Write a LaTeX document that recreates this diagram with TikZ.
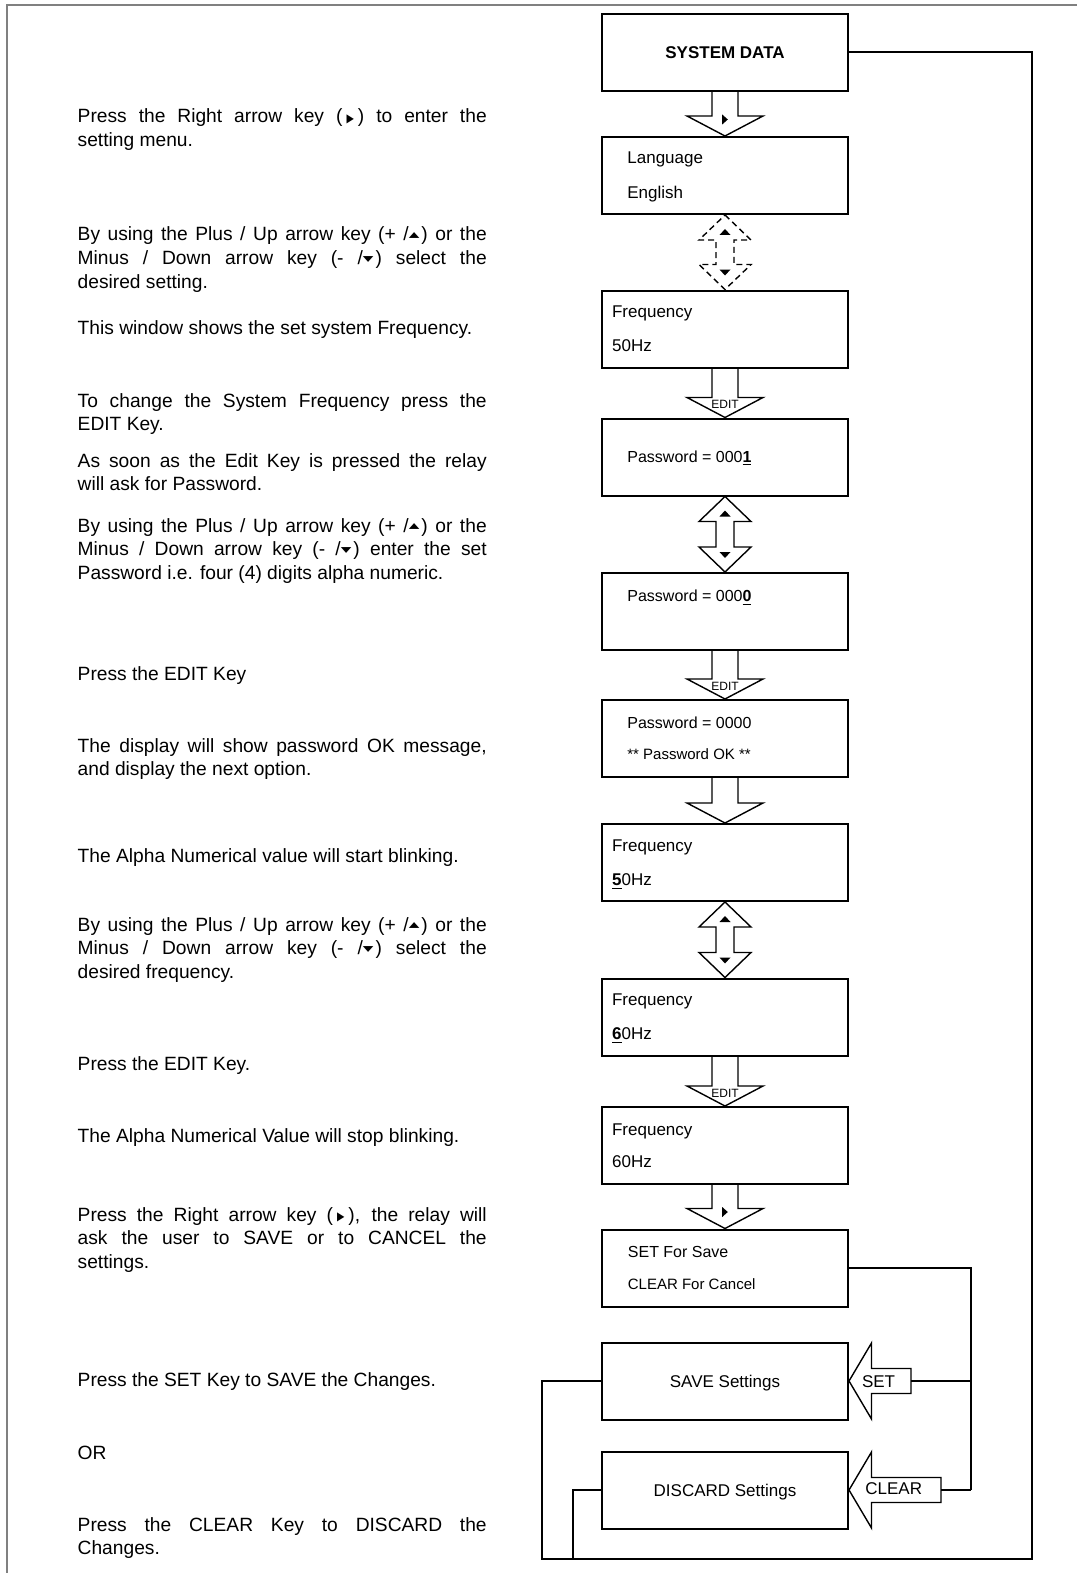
\documentclass[tikz,border=0pt]{standalone}
\usepackage{fontspec}
\setmainfont{Liberation Sans}
\newfontfamily\symfont{DejaVu Sans}
\usetikzlibrary{calc}

\tolerance=10000
\hbadness=10000
\hyphenpenalty=10000
\exhyphenpenalty=10000

% key glyphs
\newcommand{\rtk}{\raisebox{0.3pt}{\scalebox{0.5}[0.62]{\symfont ▶}}}
\newcommand{\upk}{\raisebox{1.6pt}{\scalebox{0.72}[0.4]{\symfont ▲}}}
\newcommand{\dnk}{\raisebox{1.6pt}{\scalebox{0.72}[0.4]{\symfont ▼}}}

% block arrow down, from one box to the next
\newcommand{\dnblk}[2]{%
  \draw[blk] ($(#1.south)+(-13,0)$) |- ($(#2.north)+(-38,-20)$) -- (#2.north)
    -- ++(38,-20) -| ($(#1.south)+(13,0)$);
}
% up/down block arrow between two boxes
\newcommand{\updn}[3][]{%
  \draw[blk,#1] (#2.south) -- ++(26,25) -- ++(-17,0) |- ($(#3.north)+(26,-25)$)
    -- (#3.north) -- ++(-26,-25) -- ++(17,0) |- ($(#2.south)+(-26,25)$) -- cycle;
  \fill ($(#2.south)+(0,17)$) ++(-5.5,3) -- ++(11,0) -- ++(-5.5,-6) -- cycle;
  \fill ($(#3.north)+(0,-17)$) ++(-5.5,-3) -- ++(11,0) -- ++(-5.5,6) -- cycle;
}
% small right key mark in a down arrow
\newcommand{\rmark}[1]{%
  \fill ($(#1.north)+(-2.8,-21.5)$) -- ++(5.6,5) -- ++(-5.6,5) -- cycle;
}
% block arrow pointing left into a box
\newcommand{\lblk}[3]{%
  \draw[blk] (#1.east) -- ++(22.5,-38) -- ++(0,25.5) -- ++(#2,0) -- ++(0,25)
    -- ++(-#2,0) -- ++(0,25.5) -- cycle;
  \coordinate (#3) at ($(#1.east)+({22.5+#2},0)$);
}

\tikzset{
  box/.style={draw, line width=1pt, minimum width=123pt, minimum height=38.5pt, inner sep=0pt},
  blk/.style={draw, line width=0.7pt},
  conn/.style={line width=1pt},
  btxt/.style={anchor=base west, inner sep=0pt, font=\fontsize{8.5}{10}\selectfont},
  ptxt/.style={anchor=base west, inner sep=0pt, font=\fontsize{8}{10}\selectfont},
  stxt/.style={anchor=base west, inner sep=0pt, font=\fontsize{7.5}{9}\selectfont},
  keytxt/.style={anchor=base, inner sep=0pt, font=\fontsize{6}{7}\selectfont},
  note/.style={anchor=base west, inner sep=0pt, text width=204.5pt, align=justify,
    font=\fontsize{9.6}{11.85}\selectfont},
}

\begin{document}
\begin{tikzpicture}[x=0.5pt, y=-0.5pt]
\useasboundingbox (0,0) rectangle (1077,1573);

% page frame
\draw[gray, line width=0.85pt] (6.7,1573) -- (6.7,4.7) -- (1077,4.7);

% notes on the left
\node[note] (nenter) at (77.3,123) {Press the Right arrow key (\hspace{2pt}\rtk\hspace{2pt}) to enter the\linebreak setting menu.};
\node[note] (nsetting) at (77.3,241) {By using the Plus / Up arrow key (+ /\upk\hspace{1pt}) or the\linebreak Minus / Down arrow key (- /\dnk\hspace{1pt}) select the\linebreak desired setting.};
\node[note] (nshow) at (77.3,334) {This window shows the set system Frequency.};
\node[note] (nchange) at (77.3,407) {To change the System Frequency press the\linebreak EDIT Key.};
\node[note] (nrelay) at (77.3,467) {As soon as the Edit Key is pressed the relay\linebreak will ask for Password.};
\node[note] (npass) at (77.3,532) {By using the Plus / Up arrow key (+ /\upk\hspace{1pt}) or the\linebreak Minus / Down arrow key (- /\dnk\hspace{1pt}) enter the set\linebreak Password i.e. four (4) digits alpha numeric.};
\node[note] (nedit) at (77.3,680) {Press the EDIT Key};
\node[note] (nok) at (77.3,752) {The display will show password OK message,\linebreak and display the next option.};
\node[note] (nblink) at (77.3,862) {The Alpha Numerical value will start blinking.};
\node[note] (nfreq) at (77.3,931) {By using the Plus / Up arrow key (+ /\upk\hspace{1pt}) or the\linebreak Minus / Down arrow key (- /\dnk\hspace{1pt}) select the\linebreak desired frequency.};
\node[note] (neditb) at (77.3,1070) {Press the EDIT Key.};
\node[note] (nstop) at (77.3,1142) {The Alpha Numerical Value will stop blinking.};
\node[note] (nright) at (77.3,1221) {Press the Right arrow key (\hspace{2pt}\rtk\hspace{2pt}), the relay will\linebreak ask the user to SAVE or to CANCEL the\linebreak settings.};
\node[note] (nsave) at (77.3,1386) {Press the SET Key to SAVE the Changes.};
\node[note] (nor) at (77.3,1459) {OR};
\node[note] (nclear) at (77.3,1531) {Press the CLEAR Key to DISCARD the\linebreak Changes.};

% display windows
\node[box, font=\bfseries\fontsize{8.5}{10}\selectfont] (sysdata) at (725,52.5) {SYSTEM DATA};
\node[box] (lang) at (725,175.5) {};
\node[box] (freq) at (725,329) {};
\node[box] (pwone) at (725,457) {};
\node[box] (pwzero) at (725,611.5) {};
\node[box] (pwok) at (725,738.5) {};
\node[box] (freqfive) at (725,862.5) {};
\node[box] (freqsix) at (725,1017) {};
\node[box] (freqnew) at (725,1145.5) {};
\node[box] (ask) at (725,1268) {};
\node[box, text depth=0pt, font=\fontsize{8.5}{10}\selectfont] (save) at (725,1381) {SAVE Settings};
\node[box, text depth=0pt, font=\fontsize{8.5}{10}\selectfont] (discard) at (725,1490) {DISCARD Settings};

% window texts
\node[btxt] (langa) at (627,163.3) {Language};
\node[btxt] (langb) at (627,198.3) {English};
\node[btxt] (freqa) at (611.7,317.3) {Frequency};
\node[btxt] (freqb) at (611.7,351) {50Hz};
\node[ptxt] (pwonet) at (627,462) {Password = 000\underline{\textbf{1}}};
\node[ptxt] (pwzerot) at (627,601.7) {Password = 000\underline{\textbf{0}}};
\node[ptxt] (pwoka) at (627,728) {Password = 0000};
\node[stxt] (pwokb) at (627,759) {** Password OK **};
\node[btxt] (fivea) at (611.7,851) {Frequency};
\node[btxt] (fiveb) at (611.7,885) {\underline{\textbf{5}}0Hz};
\node[btxt] (sixa) at (611.7,1005) {Frequency};
\node[btxt] (sixb) at (611.7,1039) {\underline{\textbf{6}}0Hz};
\node[btxt] (newa) at (611.7,1135) {Frequency};
\node[btxt] (newb) at (611.7,1167.3) {60Hz};
\node[ptxt] (aska) at (627.5,1257) {SET For Save};
\node[stxt] (askb) at (627.5,1289) {CLEAR For Cancel};

% key arrows
\dnblk{sysdata}{lang}
\rmark{lang}
\updn[dash pattern=on 3pt off 2pt]{lang}{freq}
\dnblk{freq}{pwone}
\node[keytxt] (edita) at ($(pwone.north)+(0,-9)$) {EDIT};
\updn{pwone}{pwzero}
\dnblk{pwzero}{pwok}
\node[keytxt] (editb) at ($(pwok.north)+(0,-9)$) {EDIT};
\dnblk{pwok}{freqfive}
\updn{freqfive}{freqsix}
\dnblk{freqsix}{freqnew}
\node[keytxt] (editc) at ($(freqnew.north)+(0,-9)$) {EDIT};
\dnblk{freqnew}{ask}
\rmark{ask}

% SET / CLEAR keys
\lblk{save}{39.5}{setend}
\lblk{discard}{69.5}{clrend}
\node[btxt] (setkey) at (861.6,1387) {SET};
\node[btxt] (clrkey) at (865,1494) {CLEAR};

% return lines
\coordinate (loopR) at (1031.5,1559);
\coordinate (loopL) at (542,1559);
\coordinate (loopI) at (573,1559);
\coordinate (bus) at (971,1490);
\draw[conn] (sysdata.east) -| (loopR) -- (loopL) |- (save.west);
\draw[conn] (discard.west) -| (loopI);
\draw[conn] (ask.east) -| (bus);
\draw[conn] (setend) -- (setend -| bus);
\draw[conn] (clrend) -- (bus);

\end{tikzpicture}
\end{document}
